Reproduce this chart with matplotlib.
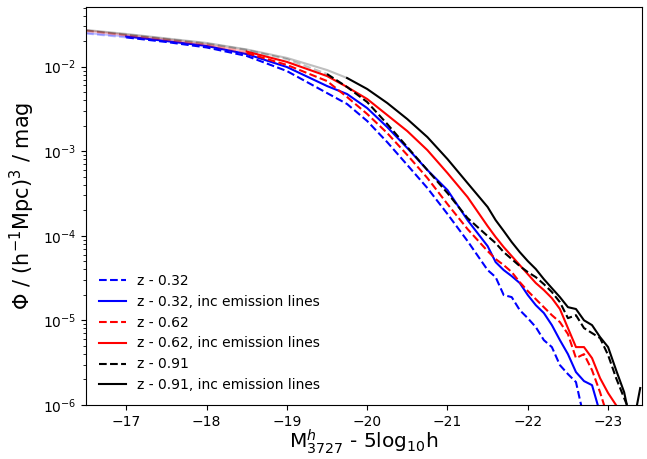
import matplotlib
matplotlib.use("Agg")
import matplotlib.pyplot as plt
import numpy as np

# absolute magnitude bins (M_3727 - 5log10 h)
mag = [-16.5, -17.0, -17.5, -18.0, -18.5, -19.0, -19.5, -19.75, -20.0, -20.25,
       -20.5, -20.75, -21.0, -21.25, -21.5, -21.6, -21.7, -21.8, -21.9, -22.0,
       -22.1, -22.2, -22.3, -22.4, -22.5, -22.6, -22.7, -22.8, -22.9, -23.0,
       -23.1, -23.2, -23.3, -23.4]

# luminosity functions, Phi / (h^-1 Mpc)^3 / mag
phi_032 = [2.47e-2, 2.22e-2, 1.96e-2, 1.69e-2, 1.34e-2, 8.89e-3, 4.88e-3, 3.62e-3,
           2.28e-3, 1.28e-3, 6.87e-4, 3.67e-4, 1.81e-4, 8.66e-5, 3.93e-5, 3.24e-5,
           1.99e-5, 1.88e-5, 1.32e-5, 1.06e-5, 8.31e-6, 5.83e-6, 4.82e-6, 2.95e-6,
           2.31e-6, 1.86e-6, 7e-7]
phi_032_em = [2.51e-2, 2.28e-2, 2.01e-2, 1.76e-2, 1.41e-2, 9.92e-3, 5.91e-3, 4.75e-3,
              3.24e-3, 1.93e-3, 1.09e-3, 5.99e-4, 3.47e-4, 1.53e-4, 7.55e-5, 4.88e-5,
              3.93e-5, 3.33e-5, 2.76e-5, 1.99e-5, 1.51e-5, 1.22e-5, 8.77e-6, 5.83e-6,
              3.98e-6, 2.44e-6, 1.91e-6, 1.71e-6, 8e-7]
phi_062 = [2.65e-2, 2.34e-2, 2.07e-2, 1.81e-2, 1.45e-2, 1.05e-2, 6.77e-3, 4.38e-3,
           2.76e-3, 1.64e-3, 9.02e-4, 4.82e-4, 2.37e-4, 1.20e-4, 6.59e-5, 5.30e-5,
           4.50e-5, 3.72e-5, 2.83e-5, 2.22e-5, 1.78e-5, 1.43e-5, 1.15e-5, 9.52e-6,
           6.87e-6, 3.57e-6, 3.98e-6, 2.57e-6, 1.41e-6, 7e-7]
phi_062_em = [2.68e-2, 2.37e-2, 2.10e-2, 1.83e-2, 1.51e-2, 1.14e-2, 7.76e-3, 5.75e-3,
              4.15e-3, 2.68e-3, 1.73e-3, 1.03e-3, 5.52e-4, 2.87e-4, 1.30e-4, 9.65e-5,
              7.35e-5, 5.75e-5, 4.50e-5, 3.52e-5, 2.76e-5, 2.28e-5, 1.83e-5, 1.36e-5,
              8.09e-6, 4.82e-6, 4.82e-6, 3.57e-6, 2.07e-6, 1.38e-6, 9.9e-7, 7e-7]
phi_091 = [2.68e-2, 2.40e-2, 2.13e-2, 1.88e-2, 1.58e-2, 1.23e-2, 8.20e-3, 5.75e-3,
           3.82e-3, 2.10e-3, 1.12e-3, 5.99e-4, 3.20e-4, 1.62e-4, 9.92e-5, 8.19e-5,
           6.41e-5, 5.30e-5, 4.38e-5, 3.72e-5, 3.24e-5, 2.68e-5, 2.16e-5, 1.64e-5,
           1.06e-5, 1.15e-5, 8.09e-6, 7.06e-6, 6.16e-6, 3.88e-6, 2.07e-6, 1.20e-6, 7e-7]
phi_091_em = [2.72e-2, 2.44e-2, 2.16e-2, 1.91e-2, 1.60e-2, 1.27e-2, 9.14e-3, 7.35e-3,
              5.45e-3, 3.72e-3, 2.40e-3, 1.47e-3, 8.08e-4, 4.20e-4, 2.19e-4, 1.53e-4,
              1.14e-4, 8.42e-5, 6.41e-5, 5.02e-5, 4.04e-5, 3.07e-5, 2.40e-5, 1.88e-5,
              1.43e-5, 1.36e-5, 1.00e-5, 8.77e-6, 6.33e-6, 4.82e-6, 2.57e-6, 1.41e-6,
              5e-7, 1.58e-6]

labels = ["z - 0.32", "z - 0.32, inc emission lines",
          "z - 0.62", "z - 0.62, inc emission lines",
          "z - 0.91", "z - 0.91, inc emission lines"]

# magnitude brighter than which each curve is drawn fully opaque
faint_cut = [-17.0, -17.0, -18.5, -18.5, -19.5, -19.75]

series = [phi_032, phi_032_em, phi_062, phi_062_em, phi_091, phi_091_em]
colors = ["blue", "blue", "red", "red", "black", "black"]
styles = ["--", "-", "--", "-", "--", "-"]

fig = plt.figure(figsize=(6.47, 4.59), dpi=100)
ax = fig.add_axes([0.133, 0.118, 0.859, 0.867])

for vals, col, ls, lab, cut in zip(series, colors, styles, labels, faint_cut):
    m = np.array(mag[:len(vals)])
    v = np.array(vals)
    pale = m >= cut
    ax.plot(m[pale], v[pale], color=col, ls=ls, lw=1.5, alpha=0.25)
    full = m <= cut
    ax.plot(m[full], v[full], color=col, ls=ls, lw=1.5, label=lab)

ax.set_yscale("log")
ax.set_xlim(-16.5, -23.42)
ax.set_ylim(1e-6, 5.1e-2)
ax.set_xticks([-17, -18, -19, -20, -21, -22, -23])

ax.set_xlabel(r"M$^{h}_{3727}$ - 5log$_{10}$h", fontsize=14.5, labelpad=-1)
ax.set_ylabel(r"$\Phi$ / (h$^{-1}$Mpc)$^3$ / mag", fontsize=15)

ax.legend(loc="lower left", frameon=False, fontsize=10)

fig.savefig("out.png", dpi=100)
